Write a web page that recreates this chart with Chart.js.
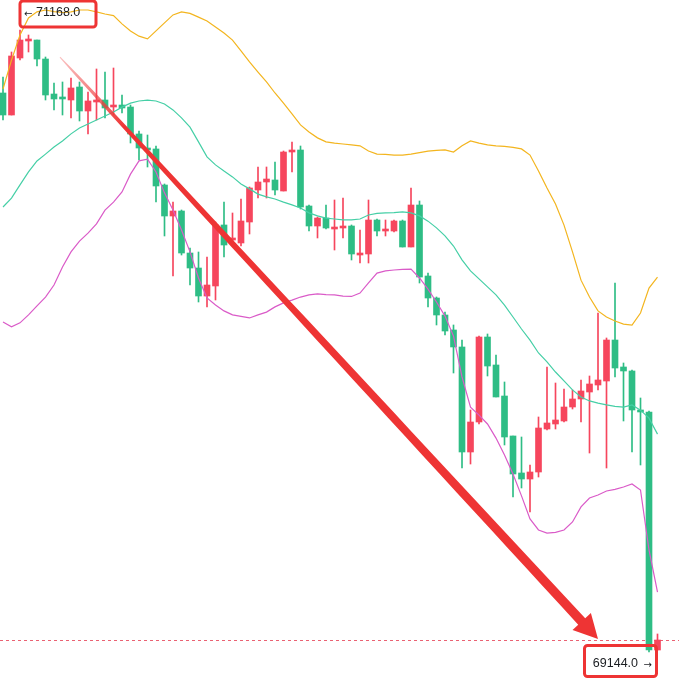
<!DOCTYPE html>
<html>
<head>
<meta charset="utf-8">
<script src="https://cdn.jsdelivr.net/npm/chart.js@4"></script>
<style>
html,body{margin:0;padding:0;background:#fff;overflow:hidden}
#wrap{width:679px;height:683px;position:relative}
</style>
</head>
<body>
<div id="wrap"><canvas id="c" width="679" height="683"></canvas></div>
<script>
// ---- data ----
const opens = [70963.0, 70891.4, 71076.9, 71132.2, 71135.4, 71073.6, 70959.7, 70950.0, 70940.2, 70982.5,
 70904.4, 70933.7, 70940.2, 70917.4, 70923.9, 70917.4, 70829.6, 70784.0, 70780.8, 70663.6,
 70562.7, 70579.0, 70442.3, 70393.5, 70302.4, 70335.0, 70533.5, 70484.6, 70474.9, 70543.2,
 70647.3, 70673.4, 70679.9, 70644.1, 70771.0, 70777.5, 70595.3, 70530.2, 70556.2, 70520.4,
 70523.7, 70530.2, 70435.8, 70439.1, 70549.7, 70513.9, 70513.9, 70546.5, 70461.9, 70598.5,
 70367.5, 70295.9, 70240.6, 70191.8, 70136.5, 69794.8, 69892.4, 70169.0, 70077.9, 69977.0,
 69846.9, 69726.5, 69706.9, 69729.7, 69869.6, 69885.9, 69895.7, 69941.2, 69967.3, 69990.0,
 70012.8, 70025.8, 70159.2, 70071.4, 70058.4, 69931.5, 69925.0, 69150.5];
const highs = [71015.0, 71096.4, 71168.0, 71151.7, 71135.4, 71080.1, 70995.5, 70998.8, 71011.8, 70998.8,
 70966.2, 71041.1, 71031.3, 71044.3, 70956.5, 70923.9, 70839.3, 70826.3, 70790.5, 70666.9,
 70608.3, 70582.3, 70458.6, 70445.6, 70429.3, 70543.2, 70608.3, 70572.5, 70618.1, 70657.1,
 70722.2, 70722.2, 70738.5, 70774.2, 70803.5, 70790.5, 70598.5, 70559.5, 70598.5, 70614.8,
 70621.3, 70533.5, 70517.2, 70614.8, 70553.0, 70549.7, 70549.7, 70549.7, 70653.9, 70611.6,
 70377.3, 70299.2, 70250.4, 70208.1, 70159.2, 69931.5, 70172.3, 70178.8, 70110.4, 70022.6,
 69846.9, 69843.6, 69752.5, 69908.7, 70071.4, 70019.3, 69999.8, 69996.5, 70029.1, 70042.1,
 70247.1, 70165.8, 70344.7, 70084.4, 70061.6, 69970.5, 69928.2, 69202.6];
const lows = [70875.1, 70891.4, 71070.4, 71096.4, 71050.8, 70940.2, 70907.7, 70891.4, 70881.6, 70871.9,
 70829.6, 70875.1, 70881.6, 70891.4, 70897.9, 70800.3, 70745.0, 70722.2, 70608.3, 70497.7,
 70367.5, 70435.8, 70338.2, 70282.9, 70266.6, 70289.4, 70429.3, 70468.4, 70465.1, 70504.2,
 70621.3, 70621.3, 70631.1, 70644.1, 70705.9, 70585.5, 70513.9, 70491.2, 70520.4, 70452.1,
 70491.2, 70419.6, 70409.8, 70409.8, 70497.7, 70497.7, 70510.7, 70461.9, 70461.9, 70344.7,
 70266.6, 70208.1, 70175.5, 70051.9, 69742.7, 69755.7, 69885.9, 70042.1, 69973.8, 69817.6,
 69648.4, 69677.7, 69599.6, 69713.4, 69866.4, 69869.6, 69892.4, 69934.7, 69892.4, 69791.5,
 69996.5, 69742.7, 70038.8, 69895.7, 69794.8, 69752.5, 69144.0, 69150.5];
const closes = [70891.4, 71083.4, 71135.4, 71138.7, 71073.6, 70956.5, 70943.5, 70943.5, 70979.3, 70904.4,
 70937.0, 70940.2, 70914.2, 70923.9, 70914.2, 70829.6, 70784.0, 70777.5, 70660.4, 70562.7,
 70579.0, 70442.3, 70393.5, 70302.4, 70338.2, 70533.5, 70468.4, 70491.2, 70546.5, 70653.9,
 70673.4, 70683.1, 70647.3, 70771.0, 70777.5, 70592.0, 70530.2, 70556.2, 70523.7, 70526.9,
 70530.2, 70439.1, 70442.3, 70549.7, 70513.9, 70520.4, 70546.5, 70461.9, 70598.5, 70364.2,
 70295.9, 70240.6, 70188.5, 70136.5, 69794.8, 69892.4, 70169.0, 70074.6, 69973.8, 69843.6,
 69723.2, 69706.9, 69729.7, 69872.9, 69889.2, 69898.9, 69941.2, 69967.3, 69993.3, 70016.1,
 70029.1, 70159.2, 70068.1, 70058.4, 69931.5, 69925.0, 69150.5, 69183.0];
const bollUpper = [70976, 71070, 71152, 71207, 71227, 71233, 71228, 71225, 71227, 71233,
 71233, 71227, 71220, 71215, 71188, 71165, 71148, 71139, 71165, 71191,
 71217, 71227, 71222, 71210, 71197, 71178, 71158, 71135, 71100, 71064,
 71031, 70999, 70963, 70930, 70895, 70859, 70836, 70817, 70804, 70800,
 70797, 70794, 70791, 70774, 70764, 70763, 70761, 70761, 70764, 70769,
 70774, 70776, 70778, 70771, 70791, 70807, 70800, 70794, 70791, 70789,
 70786, 70781, 70761, 70709, 70654, 70602, 70533, 70446, 70354, 70299,
 70254, 70234, 70221, 70211, 70208, 70247, 70328, 70364];
const bollMid = [70592, 70621, 70664, 70706, 70742, 70764, 70787, 70807, 70830, 70849,
 70862, 70875, 70888, 70901, 70917, 70930, 70937, 70940, 70937, 70927,
 70908, 70882, 70852, 70804, 70755, 70729, 70709, 70690, 70667, 70651,
 70634, 70625, 70618, 70608, 70599, 70589, 70573, 70563, 70556, 70553,
 70550, 70550, 70553, 70566, 70571, 70573, 70574, 70576, 70573, 70563,
 70546, 70524, 70498, 70465, 70420, 70384, 70358, 70332, 70306, 70273,
 70234, 70195, 70159, 70117, 70088, 70055, 70026, 69997, 69974, 69961,
 69954, 69948, 69943, 69941, 69948, 69931, 69905, 69853];
const bollLower = [70218, 70202, 70215, 70241, 70270, 70299, 70338, 70397, 70446, 70481,
 70507, 70537, 70582, 70608, 70641, 70699, 70742, 70748, 70706, 70638,
 70582, 70517, 70446, 70361, 70296, 70273, 70254, 70241, 70236, 70231,
 70241, 70250, 70267, 70280, 70289, 70299, 70306, 70309, 70307, 70306,
 70302, 70301, 70312, 70345, 70377, 70384, 70387, 70389, 70390, 70361,
 70325, 70283, 70237, 70172, 70039, 69941, 69915, 69886, 69840, 69785,
 69723, 69652, 69577, 69541, 69531, 69533, 69541, 69567, 69616, 69645,
 69655, 69668, 69673, 69681, 69691, 69671, 69476, 69339];
const maxLabel = '71168.0';
const minLabel = '69144.0';

// annotation arrow anchors (data units: candle index, price)
const arrowFrom = {x: 6.7, y: 71080};
const arrowTo = {x: 70.0, y: 69186};

// ---- styles ----
const UP = '#F6465D', DOWN = '#2EBD85';
const MARK = '#EE3434';

const idx = opens.map((_, i) => i);
const isUp = i => closes[i] >= opens[i];
const bodies = up => idx.filter(i => isUp(i) === up).map(i => ({x: i, y: [opens[i], closes[i]]}));
const wicks = up => idx.filter(i => isUp(i) === up).map(i => ({x: i, y: [lows[i], highs[i]]}));
const line = arr => idx.map(i => ({x: i, y: arr[i]}));

const annot = {
  id: 'annot',
  beforeDatasetsDraw(chart) {
    const {ctx, scales: {y}, chartArea: a} = chart;
    const py = Math.round(y.getPixelForValue(closes[closes.length - 1])) + 0.5;
    ctx.save();
    ctx.strokeStyle = 'rgba(230,70,90,0.85)';
    ctx.lineWidth = 1;
    ctx.setLineDash([3, 3]);
    ctx.beginPath();
    ctx.moveTo(a.left, py);
    ctx.lineTo(a.right, py);
    ctx.stroke();
    ctx.restore();
  },
  afterDraw(chart) {
    const {ctx, scales: {x, y}} = chart;
    ctx.save();
    // arrow
    const x0 = x.getPixelForValue(arrowFrom.x), y0 = y.getPixelForValue(arrowFrom.y);
    const x1 = x.getPixelForValue(arrowTo.x), y1 = y.getPixelForValue(arrowTo.y);
    const dx = x1 - x0, dy = y1 - y0, L = Math.hypot(dx, dy);
    const ux = dx / L, uy = dy / L, nx = -uy, ny = ux;
    const headLen = 24, headHalf = 12.5;
    const bx = x1 - ux * headLen, by = y1 - uy * headLen;
    const shaftLen = L - headLen;
    const left = [], right = [];
    const N = 30;
    for (let k = 0; k <= N; k++) {
      const t = k / N;
      const w = (1 + 8.5 * Math.sqrt(t)) / 2;
      const cx = x0 + ux * shaftLen * t, cy = y0 + uy * shaftLen * t;
      left.push([cx + nx * w, cy + ny * w]);
      right.push([cx - nx * w, cy - ny * w]);
    }
    const grad = ctx.createLinearGradient(x0, y0, x1, y1);
    grad.addColorStop(0, 'rgba(240,80,80,0.35)');
    grad.addColorStop(0.12, MARK);
    grad.addColorStop(1, MARK);
    ctx.fillStyle = grad;
    ctx.beginPath();
    ctx.moveTo(left[0][0], left[0][1]);
    for (const p of left) ctx.lineTo(p[0], p[1]);
    ctx.lineTo(bx + nx * headHalf, by + ny * headHalf);
    ctx.lineTo(x1, y1);
    ctx.lineTo(bx - nx * headHalf, by - ny * headHalf);
    for (let k = right.length - 1; k >= 0; k--) ctx.lineTo(right[k][0], right[k][1]);
    ctx.closePath();
    ctx.fill();

    // max / min labels
    const hiI = highs.indexOf(Math.max(...highs));
    const loI = lows.indexOf(Math.min(...lows));
    const txtFont = '12.5px "Liberation Sans", Arial, sans-serif';
    const arrFont = '10px "DejaVu Sans", sans-serif';
    ctx.fillStyle = '#1A1D21';
    ctx.textBaseline = 'middle';
    const tx = x.getPixelForValue(hiI) + 4, ty = y.getPixelForValue(highs[hiI]) - 17;
    ctx.textAlign = 'left';
    ctx.font = arrFont;
    ctx.fillText('\u2190', tx, ty + 1);
    ctx.font = txtFont;
    ctx.fillText(maxLabel, tx + 12, ty);
    const rx = x.getPixelForValue(loI) + 3, ly = y.getPixelForValue(lows[loI]) + 12;
    ctx.textAlign = 'right';
    ctx.font = arrFont;
    ctx.fillText('\u2192', rx, ly + 1);
    ctx.font = txtFont;
    ctx.fillText(minLabel, rx - 14, ly);

    // highlight boxes
    ctx.strokeStyle = MARK;
    ctx.lineWidth = 3;
    ctx.lineJoin = 'round';
    const rr = (l, t, r, b) => {
      ctx.beginPath();
      ctx.roundRect(l, t, r - l, b - t, 3);
      ctx.stroke();
    };
    rr(tx - 4, ty - 12, tx + 72, ty + 14);
    rr(rx - 67.5, ly - 18.5, rx + 4.5, ly + 12.5);
    ctx.restore();
  }
};

const barCommon = {type: 'bar', grouped: false, borderWidth: 0};
new Chart(document.getElementById('c'), {
  type: 'bar',
  data: {
    datasets: [
      {...barCommon, data: wicks(true), backgroundColor: UP, barThickness: 1, order: 3},
      {...barCommon, data: wicks(false), backgroundColor: DOWN, barThickness: 1, order: 3},
      {...barCommon, data: bodies(true), backgroundColor: UP, barThickness: 6, minBarLength: 1.5, order: 2},
      {...barCommon, data: bodies(false), backgroundColor: DOWN, barThickness: 6, minBarLength: 1.5, order: 2},
      {type: 'line', data: line(bollUpper), borderColor: '#F3B51F', borderWidth: 1.2, pointRadius: 0, tension: 0, order: 1},
      {type: 'line', data: line(bollMid), borderColor: '#45CFA6', borderWidth: 1.2, pointRadius: 0, tension: 0, order: 1},
      {type: 'line', data: line(bollLower), borderColor: '#DA5BC8', borderWidth: 1.2, pointRadius: 0, tension: 0, order: 1}
    ]
  },
  options: {
    responsive: false,
    animation: false,
    devicePixelRatio: 1,
    layout: {padding: 0},
    plugins: {legend: {display: false}, tooltip: {enabled: false}},
    scales: {
      x: {type: 'linear', min: -0.3529, max: 79.529, offset: false, display: false},
      y: {type: 'linear', min: 69043.1, max: 71265.6, display: false}
    }
  },
  plugins: [annot]
});
</script>
</body>
</html>
